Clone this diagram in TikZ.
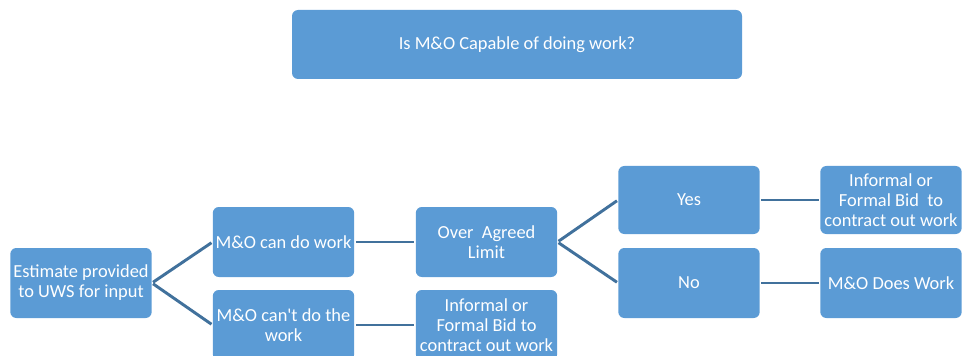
\documentclass[tikz,border=0pt]{standalone}
\usepackage{fontspec}
\setmainfont{Carlito}
\usepackage{tikz}
\usetikzlibrary{positioning, calc}

\definecolor{boxblue}{HTML}{5B9BD5}
\definecolor{linkblue}{HTML}{41719C}

\begin{document}
\begin{tikzpicture}[x=0.75pt, y=-0.75pt,
    box/.style={rectangle, rounded corners=4.5pt, fill=boxblue, text=white,
        minimum width=106pt, minimum height=52.5pt, inner sep=2pt, align=center,
        font=\fontsize{13.8}{15}\selectfont},
    link/.style={linkblue, line width=2.2pt, shorten <=1pt, shorten >=1pt}]
\clip (0,0) rectangle (963,356);

% Question on top
\node[box, minimum width=337.5pt, minimum height=51.75pt] (question) at (517,44.5) {Is M\&O Capable of doing work?};

% Decision tree
\node[box] (estimate) at (81,283) {Estimate provided\\to UWS for input};
\node[box] (cando) at (283.5,242) {M\&O can do work};
\node[box] (cannot) at (283.5,325) {M\&O can\textquotesingle t do the\\work};
\node[box] (over) at (486.5,242) {Over~ Agreed\\Limit};
\node[box] (bidlow) at (486.5,325) {Informal or\\Formal Bid to\\contract out work};
\node[box, minimum height=51pt] (yes) at (689,200) {Yes};
\node[box] (no) at (689,283) {No};
\node[box, minimum height=51pt] (bidhigh) at (891,200) {Informal or\\Formal Bid~ to\\contract out work};
\node[box] (doeswork) at (891,283) {M\&O Does Work};

% Connectors
\foreach \a/\b in {estimate/cando, estimate/cannot, cando/over, cannot/bidlow,
                   over/yes, over/no, yes/bidhigh, no/doeswork} {
    \draw[link] (\a.east) -- (\b.west);
}
\end{tikzpicture}
\end{document}
